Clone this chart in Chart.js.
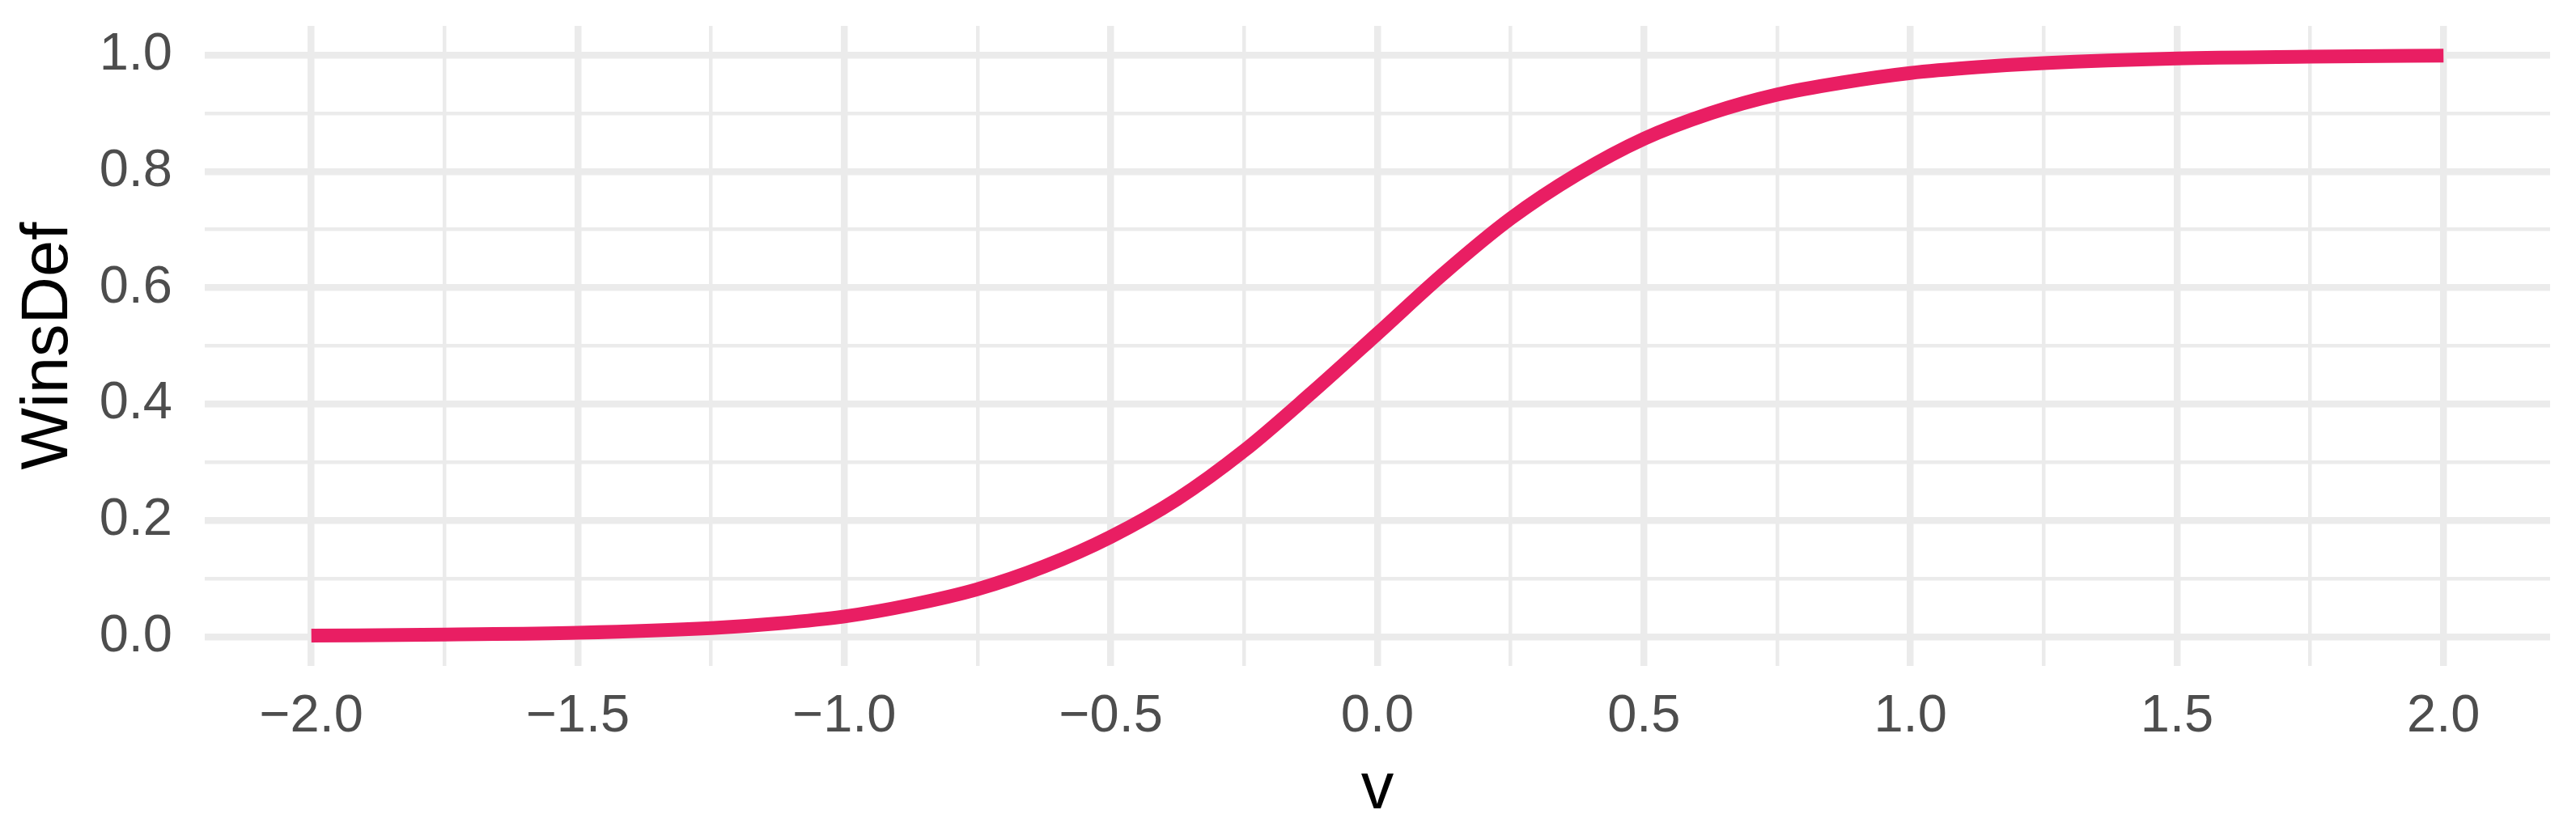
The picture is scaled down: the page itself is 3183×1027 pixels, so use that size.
<!DOCTYPE html>
<html>
<head>
<meta charset="utf-8">
<script src="https://cdn.jsdelivr.net/npm/chart.js"></script>
<style>
  body { margin: 0; background: #fff; }
</style>
</head>
<body>
<canvas id="winsChart" width="3183" height="1027"></canvas>
<script>
// valores
var vValues = [-2, -1.75, -1.5, -1.25, -1.125, -1, -0.875, -0.75, -0.625, -0.5, -0.375, -0.25, -0.125, 0, 0.125, 0.25, 0.375, 0.5, 0.625, 0.75, 0.875, 1, 1.125, 1.25, 1.5, 1.75, 2];
var winsDef = [0.002, 0.004, 0.007, 0.015, 0.023, 0.035, 0.055, 0.082, 0.121, 0.172, 0.237, 0.32, 0.418, 0.521, 0.625, 0.719, 0.795, 0.856, 0.9, 0.932, 0.953, 0.969, 0.979, 0.986, 0.994, 0.997, 0.999];

var xTicks = [-2, -1.75, -1.5, -1.25, -1, -0.75, -0.5, -0.25, 0, 0.25, 0.5, 0.75, 1, 1.25, 1.5, 1.75, 2];
var yTicks = [0, 0.1, 0.2, 0.3, 0.4, 0.5, 0.6, 0.7, 0.8, 0.9, 1];

var fontFamily = '"Liberation Sans", Arial, sans-serif';
var gridColor = '#EBEBEB';

function isMultiple(v, step) {
    var r = v / step;
    return Math.abs(r - Math.round(r)) < 1e-9;
}

function fmt(v) {
    return v.toFixed(1).replace('-', '\u2212');
}

var points = vValues.map(function (v, i) { return { x: v, y: winsDef[i] }; });

var chart = new Chart(document.getElementById('winsChart'), {
    type: 'line',
    data: {
        datasets: [{
            label: 'WinsDef',
            data: points,
            borderColor: '#E91E63',
            borderWidth: 17,
            borderCapStyle: 'butt',
            pointRadius: 0,
            fill: false,
            cubicInterpolationMode: 'monotone'
        }]
    },
    options: {
        responsive: false,
        animation: false,
        layout: { padding: { top: 32, right: 32, left: 0, bottom: 0 } },
        plugins: { legend: { display: false }, tooltip: { enabled: false } },
        scales: {
            x: {
                type: 'linear',
                min: -2.2,
                max: 2.2,
                afterBuildTicks: function (scale) {
                    scale.ticks = xTicks.map(function (v) { return { value: v }; });
                },
                afterFit: function (scale) {
                    scale.height = 204;
                    scale.paddingLeft = 0;
                    scale.paddingRight = 0;
                },
                grid: {
                    color: gridColor,
                    drawTicks: false,
                    lineWidth: function (ctx) {
                        return isMultiple(ctx.tick.value, 0.5) ? 8.5 : 4.5;
                    }
                },
                border: { display: false },
                ticks: {
                    padding: 24,
                    color: '#4D4D4D',
                    font: { family: fontFamily, size: 65 },
                    maxRotation: 0,
                    autoSkip: false,
                    callback: function (v) { return isMultiple(v, 0.5) ? fmt(v) : ''; }
                },
                title: {
                    display: true,
                    text: 'v',
                    color: '#000',
                    font: { family: fontFamily, size: 81 },
                    padding: { top: 0, bottom: 2 }
                }
            },
            y: {
                type: 'linear',
                min: -0.05,
                max: 1.05,
                afterBuildTicks: function (scale) {
                    scale.ticks = yTicks.map(function (v) { return { value: v }; });
                },
                afterFit: function (scale) {
                    scale.width = 253;
                    scale.paddingTop = 0;
                    scale.paddingBottom = 0;
                },
                grid: {
                    color: gridColor,
                    drawTicks: false,
                    lineWidth: function (ctx) {
                        return isMultiple(ctx.tick.value, 0.2) ? 8.5 : 4.5;
                    }
                },
                border: { display: false },
                ticks: {
                    padding: 40,
                    color: '#4D4D4D',
                    font: { family: fontFamily, size: 65 },
                    autoSkip: false,
                    callback: function (v) { return isMultiple(v, 0.2) ? fmt(v) : ''; }
                },
                title: {
                    display: true,
                    text: 'WinsDef',
                    color: '#000',
                    font: { family: fontFamily, size: 81 },
                    padding: { top: 12, bottom: 0 }
                }
            }
        }
    }
});
</script>
</body>
</html>
